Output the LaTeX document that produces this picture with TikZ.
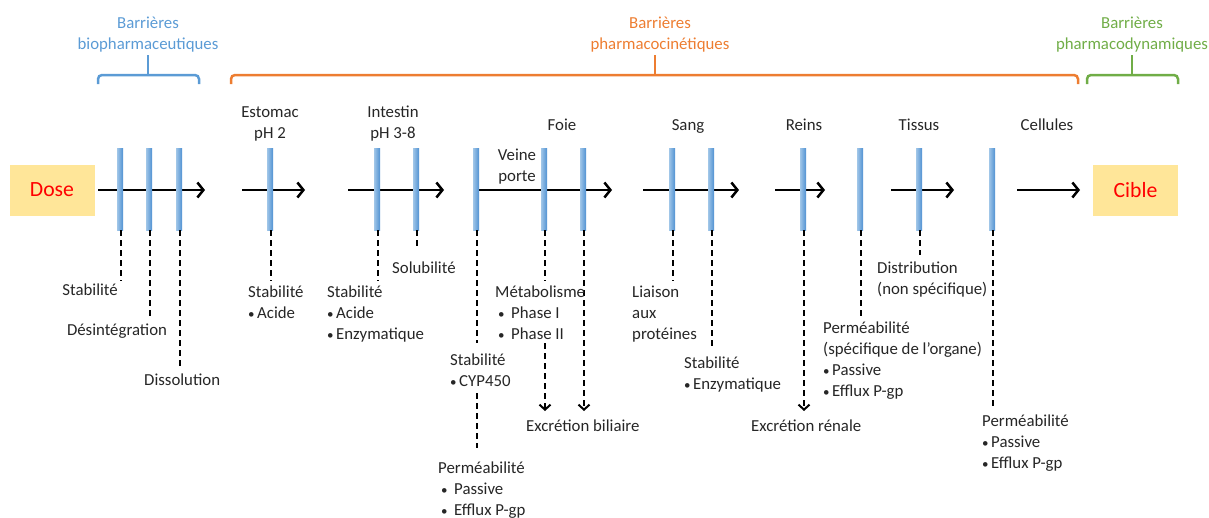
\documentclass[tikz,border=0pt]{standalone}
\usepackage{fontspec}
\setmainfont{Carlito}
\usetikzlibrary{arrows.meta}
\definecolor{barblue}{RGB}{80,145,210}
\definecolor{barlight}{RGB}{160,198,232}
\definecolor{txt}{RGB}{38,38,38}
\definecolor{blu}{RGB}{91,155,213}
\definecolor{orng}{RGB}{237,125,49}
\definecolor{grn}{RGB}{112,173,71}
\definecolor{dosefill}{RGB}{255,230,153}
\newcommand{\bul}{{\fontsize{13}{13}\selectfont•}\kern2.5pt}
\newcommand{\tbul}{\makebox[16pt][l]{\,{\fontsize{13}{13}\selectfont•}}}
\begin{document}
\begin{tikzpicture}[x=1pt,y=-1pt,
  bar/.style={draw=none,minimum width=6pt,minimum height=82pt,inner sep=0pt,left color=barlight,right color=barblue},
  flow/.style={line width=2.5pt,-{Straight Barb[length=6pt,width=15pt]}},
  dline/.style={line width=2pt,dash pattern=on 6pt off 4pt},
  darr/.style={dline,-{Straight Barb[length=5pt,width=11pt]}},
  lbl/.style={inner sep=0pt,text=txt,font=\fontsize{16.8}{21}\selectfont,align=left},
  hdr/.style={lbl,anchor=base,align=center},
  brk/.style={line width=2.5pt,rounded corners=4pt},
  endbox/.style={fill=dosefill,minimum width=85pt,minimum height=51pt,inner sep=0pt,text=red,font=\fontsize{21.7}{26}\selectfont}]
\useasboundingbox (0,0) rectangle (1209,517);

% brackets
\draw[brk,blu] (98,84) -- (98,75) -- (199,75) -- (199,84);
\draw[brk,blu] (148,75) -- (148,55);
\draw[brk,orng] (231,84) -- (231,75) -- (1078,75) -- (1078,84);
\draw[brk,orng] (655,75) -- (655,55);
\draw[brk,grn] (1087,84) -- (1087,75) -- (1178,75) -- (1178,84);
\draw[brk,grn] (1132,75) -- (1132,55);
% (multi-line nodes: base anchor = baseline of last line)
\node[hdr,text=blu] (tb) at (148,49) {Barrières\\biopharmaceutiques};
\node[hdr,text=orng] (to) at (660,49) {Barrières\\pharmacocinétiques};
\node[hdr,text=grn] (tg) at (1132,49) {Barrières\\pharmacodynamiques};

% end boxes
\node[endbox] (dose) at (52,190) {Dose};
\node[endbox] (cible) at (1135.5,190) {Cible};

% headers
\node[hdr] (h1) at (270,138) {Estomac\\pH 2};
\node[hdr] (h2) at (393,138) {Intestin\\pH 3-8};
\node[hdr] (h3) at (562,130) {Foie};
\node[hdr] (h4) at (517,181) {Veine\\porte};
\node[hdr] (h5) at (688,130) {Sang};
\node[hdr] (h6) at (804,130) {Reins};
\node[hdr] (h7) at (919,130) {Tissus};
\node[hdr] (h8) at (1047,130) {Cellules};

% arrow coordinates
\coordinate (s1) at (98,190);  \coordinate (e1) at (205,190);
\coordinate (s2) at (242,190); \coordinate (e2) at (305,190);
\coordinate (s3) at (348,190); \coordinate (e3) at (444,190);
\coordinate (s4) at (476,190); \coordinate (e4) at (612,190);
\coordinate (s5) at (643,190); \coordinate (e5) at (739,190);
\coordinate (s6) at (775,190); \coordinate (e6) at (825,190);
\coordinate (s7) at (891,190); \coordinate (e7) at (954,190);
\coordinate (s8) at (1017,190); \coordinate (e8) at (1080,190);
\foreach \i in {1,...,8} {\draw[flow] (s\i) -- (e\i);}

% bars
\foreach \n/\x in {b1/120,b2/149,b3/179,b4/270,b5/377,b6/416,b7/476,b8/544,b9/583,b10/672,b11/711,b12/803,b13/860,b14/919,b15/992}
  {\node[bar] (\n) at (\x,189) {};}

% dashed connectors
\coordinate (d1) at (121,281);
\coordinate (d2) at (150,318);
\coordinate (d3) at (180,370);
\coordinate (d4) at (271,281);
\coordinate (d5) at (378,281);
\coordinate (d6) at (417,250);
\coordinate (d7) at (477,343);
\coordinate (d7b) at (477,393); \coordinate (d7c) at (477,448);
\coordinate (d8) at (545,281);
\coordinate (d8b) at (545,343); \coordinate (d8c) at (545,411);
\coordinate (d9) at (584,411);
\coordinate (d10) at (673,281);
\coordinate (d11) at (712,348);
\coordinate (d12) at (804,411);
\coordinate (d13) at (861,318);
\coordinate (d14) at (920,255);
\coordinate (d15) at (993,407);
\foreach \i in {1,2,3,4,5,6,7,8,10,11,13,14,15}
  {\draw[dline] ([xshift=1pt]b\i.south) -- (d\i);}
\draw[dline] (d7b) -- (d7c);
\draw[darr] (d8b) -- (d8c);
\draw[darr] ([xshift=1pt]b9.south) -- (d9);
\draw[darr] ([xshift=1pt]b12.south) -- (d12);

% labels
\node[lbl,anchor=base east] (l1) at (118,295) {Stabilité};
\node[lbl,anchor=base] (l2) at (117,335) {Désintégration};
\node[lbl,anchor=base west] (l3) at (144,385) {Dissolution};
\node[lbl,anchor=base west] (l4) at (248,318) {Stabilité\\\bul Acide};
\node[lbl,anchor=base west] (l5) at (327,339) {Stabilité\\\bul Acide\\\bul Enzymatique};
\node[lbl,anchor=base west] (l6) at (392,273) {Solubilité};
\node[lbl,anchor=base west] (l7) at (450,386) {Stabilité\\\bul CYP450};
\node[lbl,anchor=base west] (l7b) at (438,515) {Perméabilité\\\tbul Passive\\\tbul Efflux P-gp};
\node[lbl,anchor=base west] (l8) at (495,339) {Métabolisme\\\tbul Phase I\\\tbul Phase II};
\node[lbl,anchor=base west] (l9) at (526,431) {Excrétion biliaire};
\node[lbl,anchor=base west] (l10) at (632,339) {Liaison\\aux\\protéines};
\node[lbl,anchor=base west] (l11) at (684,389) {Stabilité\\\bul Enzymatique};
\node[lbl,anchor=base west] (l12) at (751,431) {Excrétion rénale};
\node[lbl,anchor=base west] (l13) at (823,396) {Perméabilité\\(spécifique de l’organe)\\\bul Passive\\\bul Efflux P-gp};
\node[lbl,anchor=base west] (l14) at (877,294) {Distribution\\(non spécifique)};
\node[lbl,anchor=base west] (l15) at (982,468) {Perméabilité\\\bul Passive\\\bul Efflux P-gp};
\end{tikzpicture}
\end{document}
